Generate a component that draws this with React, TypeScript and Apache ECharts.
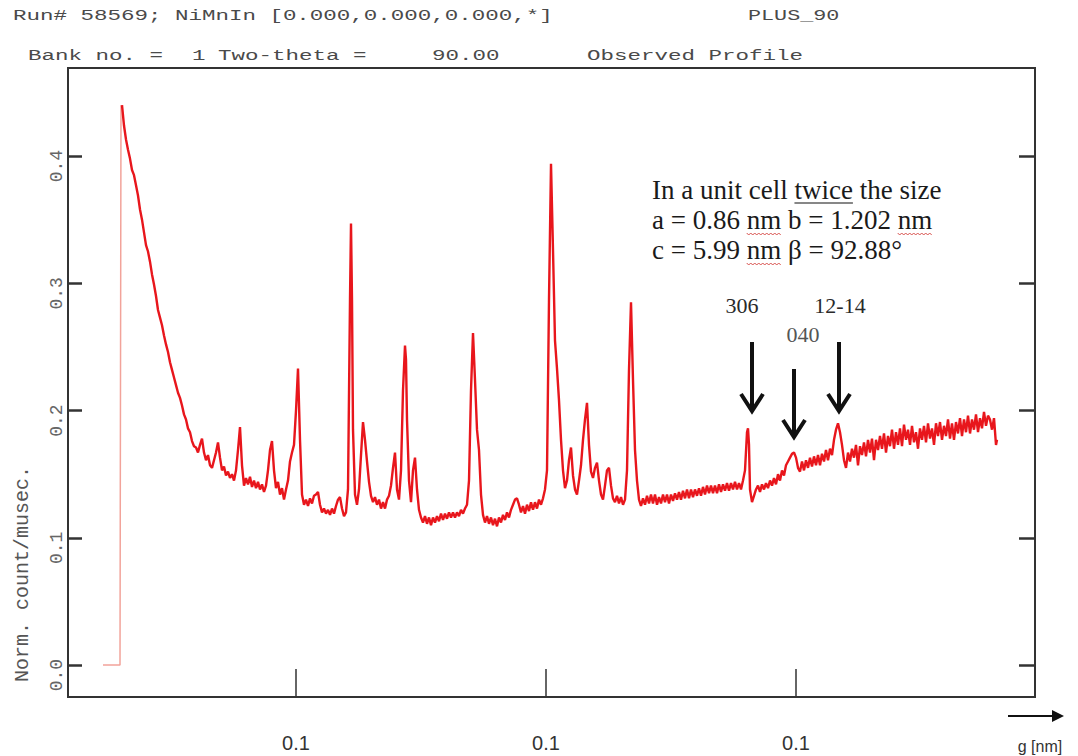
import React, { useEffect, useRef } from 'react';
import * as echarts from 'echarts';

// Axis definitions (d in nm, normalized counts)
const xTickValues = [0.05, 0.1, 0.15];
const yTickValues = [0, 0.1, 0.2, 0.3, 0.4];
const X_MIN = 0.0044;
const X_MAX = 0.1978;
const Y_MIN = -0.0251;
const Y_MAX = 0.4692;

// Observed profile: [d (nm), count/musec]
const onsetStep: [number, number][] = [[0.0114, 0], [0.0148, 0], [0.0150, 0.440]];

const decayCurve: [number, number][] = [
  [0.0152, 0.440], [0.0156, 0.424], [0.0160, 0.413], [0.0164, 0.405], [0.0168, 0.398], [0.0172, 0.389],
  [0.0176, 0.385], [0.0180, 0.377], [0.0184, 0.369], [0.0188, 0.358], [0.0192, 0.350], [0.0196, 0.340],
  [0.0200, 0.330], [0.0204, 0.325], [0.0208, 0.317], [0.0212, 0.307], [0.0216, 0.299], [0.0220, 0.290],
  [0.0224, 0.279], [0.0228, 0.273], [0.0232, 0.267], [0.0236, 0.259], [0.0240, 0.252], [0.0244, 0.246],
  [0.0248, 0.238], [0.0252, 0.232], [0.0256, 0.226], [0.0260, 0.220], [0.0264, 0.214], [0.0268, 0.210],
  [0.0272, 0.204], [0.0276, 0.197], [0.0280, 0.193], [0.0284, 0.186], [0.0288, 0.183], [0.0292, 0.176],
  [0.0296, 0.172], [0.0300, 0.171], [0.0304, 0.167],
];

const peaksA: [number, number][] = [
  [0.0308, 0.173], [0.0312, 0.178], [0.0316, 0.167], [0.0320, 0.161], [0.0324, 0.165], [0.0328, 0.157],
  [0.0332, 0.155], [0.0336, 0.161], [0.0340, 0.167], [0.0344, 0.175], [0.0348, 0.163], [0.0352, 0.153],
  [0.0356, 0.156], [0.0360, 0.149], [0.0364, 0.152], [0.0368, 0.147], [0.0372, 0.150], [0.0376, 0.145],
  [0.0380, 0.153], [0.0384, 0.169], [0.0388, 0.187], [0.0392, 0.157], [0.0396, 0.141], [0.0400, 0.147],
  [0.0404, 0.142], [0.0408, 0.148], [0.0412, 0.140], [0.0416, 0.145], [0.0420, 0.139], [0.0424, 0.144],
  [0.0428, 0.138], [0.0432, 0.142], [0.0436, 0.136], [0.0440, 0.141], [0.0444, 0.153], [0.0448, 0.169],
  [0.0452, 0.176], [0.0456, 0.153], [0.0460, 0.139], [0.0464, 0.144], [0.0468, 0.134], [0.0472, 0.139],
  [0.0476, 0.130], [0.0480, 0.138], [0.0484, 0.145], [0.0488, 0.160], [0.0492, 0.167], [0.0496, 0.173],
  [0.0500, 0.200], [0.0504, 0.233],
];

const peaksB: [number, number][] = [
  [0.0508, 0.177], [0.0512, 0.134], [0.0516, 0.126], [0.0520, 0.130], [0.0524, 0.125], [0.0528, 0.131],
  [0.0532, 0.127], [0.0536, 0.133], [0.0540, 0.134], [0.0544, 0.136], [0.0548, 0.126], [0.0552, 0.120],
  [0.0556, 0.123], [0.0560, 0.119], [0.0564, 0.122], [0.0568, 0.118], [0.0572, 0.123], [0.0576, 0.119],
  [0.0580, 0.125], [0.0584, 0.130], [0.0588, 0.132], [0.0592, 0.123], [0.0596, 0.117], [0.0600, 0.120],
  [0.0604, 0.138], [0.0608, 0.287], [0.0610, 0.347], [0.0612, 0.287], [0.0614, 0.185], [0.0618, 0.134],
  [0.0622, 0.126], [0.0626, 0.138], [0.0630, 0.165], [0.0634, 0.191], [0.0638, 0.177], [0.0642, 0.160],
  [0.0646, 0.144], [0.0650, 0.133], [0.0654, 0.128], [0.0658, 0.132], [0.0662, 0.126], [0.0666, 0.130],
  [0.0670, 0.123], [0.0674, 0.128], [0.0678, 0.123], [0.0682, 0.130], [0.0686, 0.133], [0.0690, 0.141],
  [0.0694, 0.155], [0.0698, 0.167], [0.0702, 0.138], [0.0706, 0.130], [0.0710, 0.153], [0.0714, 0.216],
  [0.0718, 0.251], [0.0720, 0.240], [0.0722, 0.193], [0.0726, 0.145], [0.0730, 0.128], [0.0734, 0.153],
  [0.0738, 0.163], [0.0742, 0.138], [0.0746, 0.122],
];

const peaksC: [number, number][] = [
  [0.0750, 0.116], [0.0754, 0.112], [0.0758, 0.117], [0.0762, 0.111], [0.0766, 0.116], [0.0770, 0.110],
  [0.0774, 0.116], [0.0778, 0.112], [0.0782, 0.117], [0.0786, 0.113], [0.0790, 0.119], [0.0794, 0.114],
  [0.0798, 0.119], [0.0802, 0.115], [0.0806, 0.120], [0.0810, 0.116], [0.0814, 0.120], [0.0818, 0.116],
  [0.0822, 0.120], [0.0826, 0.117], [0.0830, 0.122], [0.0834, 0.119], [0.0838, 0.123], [0.0842, 0.126],
  [0.0846, 0.145], [0.0850, 0.216], [0.0854, 0.261], [0.0858, 0.224], [0.0862, 0.185], [0.0866, 0.169],
  [0.0870, 0.134], [0.0874, 0.118], [0.0878, 0.112], [0.0882, 0.117], [0.0886, 0.111], [0.0890, 0.116],
  [0.0894, 0.110], [0.0898, 0.115], [0.0902, 0.109], [0.0906, 0.116], [0.0910, 0.112], [0.0914, 0.118],
  [0.0918, 0.114], [0.0922, 0.120], [0.0926, 0.116], [0.0930, 0.122], [0.0934, 0.126], [0.0938, 0.130],
  [0.0942, 0.131], [0.0946, 0.126], [0.0950, 0.120], [0.0954, 0.125], [0.0958, 0.119], [0.0962, 0.126],
  [0.0966, 0.121], [0.0970, 0.128], [0.0974, 0.122], [0.0978, 0.128], [0.0982, 0.123], [0.0986, 0.130],
  [0.0990, 0.126], [0.0994, 0.131], [0.0998, 0.138],
];

const peaksD: [number, number][] = [
  [0.1002, 0.153], [0.1006, 0.287], [0.1010, 0.394], [0.1014, 0.326], [0.1018, 0.255], [0.1022, 0.233],
  [0.1026, 0.208], [0.1030, 0.177], [0.1034, 0.153], [0.1038, 0.139], [0.1042, 0.145], [0.1046, 0.161],
  [0.1050, 0.171], [0.1054, 0.149], [0.1058, 0.138], [0.1062, 0.134], [0.1066, 0.145], [0.1070, 0.157],
  [0.1074, 0.177], [0.1078, 0.193], [0.1082, 0.206], [0.1086, 0.173], [0.1090, 0.152], [0.1094, 0.147],
  [0.1098, 0.155], [0.1102, 0.159], [0.1106, 0.145], [0.1110, 0.134], [0.1114, 0.130], [0.1118, 0.141],
  [0.1122, 0.153], [0.1126, 0.155], [0.1130, 0.141], [0.1134, 0.131], [0.1138, 0.128], [0.1142, 0.133],
  [0.1146, 0.127], [0.1150, 0.132], [0.1154, 0.126], [0.1158, 0.130], [0.1162, 0.153], [0.1166, 0.232],
  [0.1170, 0.285], [0.1174, 0.224], [0.1178, 0.169], [0.1182, 0.145], [0.1186, 0.130], [0.1190, 0.125],
];

const plateau: [number, number][] = [
  [0.1194, 0.131], [0.1198, 0.126], [0.1202, 0.133], [0.1206, 0.127], [0.1210, 0.134], [0.1214, 0.127],
  [0.1218, 0.134], [0.1222, 0.126], [0.1226, 0.132], [0.1230, 0.127], [0.1234, 0.134], [0.1238, 0.128],
  [0.1242, 0.134], [0.1246, 0.127], [0.1250, 0.134], [0.1254, 0.129], [0.1258, 0.135], [0.1262, 0.130],
  [0.1266, 0.136], [0.1270, 0.130], [0.1274, 0.137], [0.1278, 0.131], [0.1282, 0.138], [0.1286, 0.131],
  [0.1290, 0.138], [0.1294, 0.132], [0.1298, 0.138], [0.1302, 0.133], [0.1306, 0.139], [0.1310, 0.133],
  [0.1314, 0.140], [0.1318, 0.134], [0.1322, 0.141], [0.1326, 0.135], [0.1330, 0.141], [0.1334, 0.135],
  [0.1338, 0.141], [0.1342, 0.135], [0.1346, 0.142], [0.1350, 0.136], [0.1354, 0.142], [0.1358, 0.137],
  [0.1362, 0.143], [0.1366, 0.137], [0.1370, 0.143], [0.1374, 0.138], [0.1378, 0.144], [0.1382, 0.138],
  [0.1386, 0.143], [0.1390, 0.138], [0.1394, 0.145], [0.1398, 0.153],
];

const weakPeaks: [number, number][] = [
  [0.1402, 0.183], [0.1404, 0.186], [0.1406, 0.173], [0.1408, 0.138], [0.1412, 0.128], [0.1416, 0.133],
  [0.1420, 0.138], [0.1424, 0.141], [0.1428, 0.136], [0.1432, 0.142], [0.1436, 0.138], [0.1440, 0.143],
  [0.1444, 0.139], [0.1448, 0.145], [0.1452, 0.141], [0.1456, 0.147], [0.1460, 0.142], [0.1464, 0.150],
  [0.1468, 0.145], [0.1472, 0.153], [0.1476, 0.149], [0.1480, 0.157], [0.1484, 0.160], [0.1488, 0.163],
  [0.1492, 0.166], [0.1496, 0.167], [0.1500, 0.163], [0.1504, 0.155], [0.1508, 0.152], [0.1512, 0.160],
  [0.1516, 0.153], [0.1520, 0.161], [0.1524, 0.155], [0.1528, 0.163], [0.1532, 0.156], [0.1536, 0.164],
  [0.1540, 0.157], [0.1544, 0.165], [0.1548, 0.157], [0.1552, 0.166], [0.1556, 0.160], [0.1560, 0.169],
  [0.1564, 0.161], [0.1568, 0.170], [0.1572, 0.165], [0.1576, 0.177], [0.1580, 0.185], [0.1584, 0.190],
  [0.1588, 0.183], [0.1592, 0.173],
];

const tailNoise: [number, number][] = [
  [0.1596, 0.161], [0.1600, 0.155], [0.1604, 0.167], [0.1608, 0.160], [0.1612, 0.170], [0.1616, 0.163],
  [0.1620, 0.173], [0.1624, 0.157], [0.1628, 0.172], [0.1632, 0.165], [0.1636, 0.175], [0.1640, 0.164],
  [0.1644, 0.177], [0.1648, 0.167], [0.1652, 0.178], [0.1656, 0.161], [0.1660, 0.177], [0.1664, 0.169],
  [0.1668, 0.180], [0.1672, 0.170], [0.1676, 0.182], [0.1680, 0.167], [0.1684, 0.180], [0.1688, 0.172],
  [0.1692, 0.185], [0.1696, 0.170], [0.1700, 0.183], [0.1704, 0.173], [0.1708, 0.186], [0.1712, 0.172],
  [0.1716, 0.189], [0.1720, 0.177], [0.1724, 0.185], [0.1728, 0.173], [0.1732, 0.188], [0.1736, 0.175],
  [0.1740, 0.183], [0.1744, 0.170], [0.1748, 0.186], [0.1752, 0.177], [0.1756, 0.188], [0.1760, 0.175],
  [0.1764, 0.190], [0.1768, 0.178], [0.1772, 0.186], [0.1776, 0.173], [0.1780, 0.190], [0.1784, 0.180],
  [0.1788, 0.191], [0.1792, 0.177], [0.1796, 0.188], [0.1800, 0.180], [0.1804, 0.193], [0.1808, 0.178],
  [0.1812, 0.190], [0.1816, 0.177], [0.1820, 0.191], [0.1824, 0.182], [0.1828, 0.194], [0.1832, 0.180],
  [0.1836, 0.193], [0.1840, 0.183], [0.1844, 0.196], [0.1848, 0.182], [0.1852, 0.193], [0.1856, 0.185],
  [0.1860, 0.197], [0.1864, 0.183], [0.1868, 0.194], [0.1872, 0.186], [0.1876, 0.199], [0.1880, 0.188],
  [0.1884, 0.196], [0.1888, 0.193], [0.1892, 0.185], [0.1896, 0.194], [0.1900, 0.173], [0.1902, 0.177],
];

const profile = [
  ...decayCurve, ...peaksA, ...peaksB, ...peaksC, ...peaksD, ...plateau, ...weakPeaks, ...tailNoise,
];

const headerLine1 = 'Run# 58569; NiMnIn [0.000,0.000,0.000,*]';
const headerTag = 'PLUS_90';
const headerLine2 = [
  { text: 'Bank no. =', x: 28 },
  { text: '1', x: 192 },
  { text: 'Two-theta =', x: 218 },
  { text: '90.00', x: 432 },
  { text: 'Observed Profile', x: 587 },
];
const yAxisName = 'Norm. count/musec.';
const noteLines = ['In a unit cell twice the size', 'a = 0.86 nm b = 1.202 nm', 'c = 5.99 nm \u03B2 = 92.88\u00B0'];
const peakLabels = ['306', '040', '12-14'];
const xAxisName = 'g [nm]';

const measure = (text: string, font: string) => {
  const c = document.createElement('canvas').getContext('2d');
  if (!c) return text.length * 10;
  c.font = font;
  return c.measureText(text).width;
};

export default function App() {
  const ref = useRef<HTMLDivElement>(null);
  useEffect(() => {
    if (!ref.current) return;
    const chart = echarts.init(ref.current, null, { renderer: 'svg' });

    const noteFontSize = 27;
    const noteFont = `${noteFontSize}px "Liberation Serif"`;
    const noteX = 652;
    const noteY = [190, 220, 250];
    const monoStyle = (text: string) => ({
      text,
      fontFamily: 'Liberation Mono',
      fontSize: 15,
      fill: '#4a4a4a',
      align: 'left',
      textAlign: 'left',
      verticalAlign: 'middle',
      textVerticalAlign: 'middle',
    });

    const twiceStart = noteX + measure('In a unit cell ', noteFont);
    const twiceW = measure('twice', noteFont);
    const nm1 = noteX + measure('a = 0.86 ', noteFont);
    const nm2 = noteX + measure('a = 0.86 nm b = 1.202 ', noteFont);
    const nm3 = noteX + measure('c = 5.99 ', noteFont);
    const nmW = measure('nm', noteFont);
    const wavy = (x0: number, w: number, y: number) => {
      const pts: number[][] = [];
      for (let x = x0, k = 0; x <= x0 + w; x += 2, k++) pts.push([x, y + (k % 2 === 0 ? 0 : 2)]);
      return { type: 'polyline', shape: { points: pts }, style: { stroke: '#d9534f', lineWidth: 1, fill: null } };
    };

    const arrow = (x: number, top: number, tip: number) => [
      { type: 'line', shape: { x1: x, y1: top, x2: x, y2: tip - 2 }, style: { stroke: '#111', lineWidth: 4 } },
      {
        type: 'polyline',
        shape: { points: [[x - 11, tip - 17], [x, tip], [x + 11, tip - 17]] },
        style: { stroke: '#111', lineWidth: 4, fill: null, lineJoin: 'miter' },
      },
    ];

    const graphic: any[] = [
      { type: 'text', x: 13, y: 16, scaleX: 1.5, style: monoStyle(headerLine1) },
      { type: 'text', x: 748, y: 16, scaleX: 1.45, style: monoStyle(headerTag) },
      ...headerLine2.map((h) => ({ type: 'text', x: h.x, y: 56, scaleX: 1.5, style: monoStyle(h.text) })),
      {
        type: 'text', x: 22, y: 574, rotation: Math.PI / 2,
        style: {
          text: yAxisName, fontFamily: 'Liberation Mono', fontSize: 20, fill: '#555',
          align: 'center', textAlign: 'center', verticalAlign: 'middle', textVerticalAlign: 'middle',
        },
      },
      ...noteLines.map((t, i) => ({
        type: 'text', x: noteX, y: noteY[i],
        style: {
          text: t, fontFamily: 'Liberation Serif', fontSize: noteFontSize, fill: '#1a1a1a',
          align: 'left', textAlign: 'left', verticalAlign: 'middle', textVerticalAlign: 'middle',
        },
      })),
      { type: 'line', shape: { x1: twiceStart, y1: 203, x2: twiceStart + twiceW, y2: 203 }, style: { stroke: '#111', lineWidth: 1.2 } },
      wavy(nm1, nmW, 233),
      wavy(nm2, nmW, 233),
      wavy(nm3, nmW, 263),
      ...[
        { t: peakLabels[0], x: 742, y: 305, c: '#2a2a2a' },
        { t: peakLabels[1], x: 803, y: 334, c: '#555' },
        { t: peakLabels[2], x: 840, y: 305, c: '#2a2a2a' },
      ].map((p) => ({
        type: 'text', x: p.x, y: p.y,
        style: {
          text: p.t, fontFamily: 'Liberation Serif', fontSize: 22, fill: p.c,
          align: 'center', textAlign: 'center', verticalAlign: 'middle', textVerticalAlign: 'middle',
        },
      })),
      ...arrow(752, 342, 411),
      ...arrow(794, 369, 437),
      ...arrow(839, 342, 411),
      { type: 'line', shape: { x1: 1008, y1: 716, x2: 1056, y2: 716 }, style: { stroke: '#111', lineWidth: 2 } },
      { type: 'polygon', shape: { points: [[1052, 710], [1064, 716], [1052, 722]] }, style: { fill: '#111' } },
      {
        type: 'text', x: 1040, y: 746,
        style: {
          text: xAxisName, fontFamily: 'Liberation Sans', fontSize: 16, fill: '#333',
          align: 'center', textAlign: 'center', verticalAlign: 'middle', textVerticalAlign: 'middle',
        },
      },
    ];

    const axisLine = { show: true, onZero: false, lineStyle: { color: '#333', width: 2 } };
    const option: any = {
      animation: false,
      backgroundColor: '#ffffff',
      grid: { left: 68, right: 43, top: 68, bottom: 59, show: true, borderColor: '#333', borderWidth: 2, backgroundColor: 'transparent' },
      xAxis: {
        type: 'value', min: X_MIN, max: X_MAX,
        axisLine,
        axisTick: { show: true, inside: true, length: 28, customValues: xTickValues, lineStyle: { color: '#333', width: 1.5 } },
        axisLabel: {
          customValues: xTickValues, formatter: (v: number) => Number(v).toFixed(1), margin: 36,
          fontFamily: 'Liberation Sans', fontSize: 20, color: '#333',
        },
        splitLine: { show: false },
      },
      yAxis: [
        {
          type: 'value', position: 'left', min: Y_MIN, max: Y_MAX,
          axisLine,
          axisTick: { show: true, inside: true, length: 14, customValues: yTickValues, lineStyle: { color: '#333', width: 2.5 } },
          axisLabel: {
            customValues: yTickValues, formatter: (v: number) => Number(v).toFixed(1), rotate: 90, margin: 2,
            padding: [0, 20, 0, 0],
            fontFamily: 'Liberation Mono', fontSize: 18, color: '#666',
          },
          splitLine: { show: false },
        },
        {
          type: 'value', position: 'right', min: Y_MIN, max: Y_MAX,
          axisLine,
          axisTick: { show: true, inside: true, length: 16, customValues: yTickValues, lineStyle: { color: '#333', width: 2.5 } },
          axisLabel: { show: false },
          splitLine: { show: false },
        },
      ],
      series: [
        {
          name: 'onset', type: 'line', data: onsetStep, showSymbol: false, symbol: 'none',
          lineStyle: { color: '#f2a39a', width: 1.5 }, z: 2,
        },
        {
          name: 'Observed Profile', type: 'line', data: profile, showSymbol: false, symbol: 'none',
          lineStyle: { color: '#e8161c', width: 2.4 }, z: 3,
        },
      ],
      graphic,
    };
    chart.setOption(option);
    return () => chart.dispose();
  }, []);
  return <div ref={ref} style={{ position: 'fixed', left: 0, top: 0, width: 1078, height: 756, background: '#fff' }} />;
}
